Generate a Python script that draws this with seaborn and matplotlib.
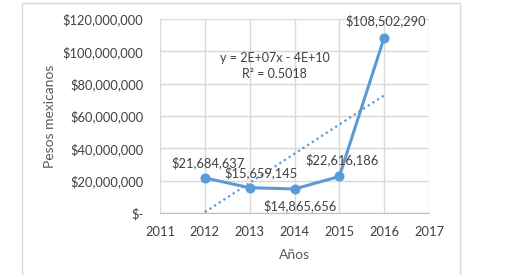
import numpy as np
import pandas as pd
import matplotlib
matplotlib.use("Agg")
import matplotlib.pyplot as plt
import seaborn as sns
from matplotlib.ticker import FuncFormatter

# Data
anios = [2012, 2013, 2014, 2015, 2016]
pesos = [21684637, 15659145, 14865656, 22616186, 108502290]
etiquetas = ["$21,684,637", "$15,659,145", "$14,865,656", "$22,616,186", "$108,502,290"]
ecuacion = "y = 2E+07x - 4E+10"
r2_texto = "R² = 0.5018"

azul = "#5B9BD5"
gris_texto = "#595959"
gris_rejilla = "#D9D9D9"

sns.set_style("white")
plt.rcParams["font.family"] = ["Lato", "DejaVu Sans"]

df = pd.DataFrame({"Años": anios, "Pesos": pesos})

fig = plt.figure(figsize=(5.28, 2.75), dpi=100)
ax = fig.add_axes([160 / 528, 1 - 213 / 275, 269 / 528, 194 / 275])

# outer chart-area border (left, top, right visible)
fig.add_artist(plt.Line2D([22 / 528, 22 / 528], [0, 1 - 3 / 275], color=gris_rejilla, lw=1, transform=fig.transFigure))
fig.add_artist(plt.Line2D([22 / 528, 460 / 528], [1 - 3 / 275, 1 - 3 / 275], color=gris_rejilla, lw=1, transform=fig.transFigure))
fig.add_artist(plt.Line2D([460 / 528, 460 / 528], [0, 1 - 3 / 275], color=gris_rejilla, lw=1, transform=fig.transFigure))

# linear trend line
coef = np.polyfit(anios, pesos, 1)
tendencia = np.polyval(coef, anios)
ax.plot([anios[0], anios[-1]], [tendencia[0], tendencia[-1]], color=azul, lw=1.6, linestyle=(0, (1, 1.5)))

sns.lineplot(data=df, x="Años", y="Pesos", ax=ax, color=azul, lw=2.2,
             marker="o", markersize=6.5, markeredgecolor=azul)

offsets = [(2, 11), (8, 11), (4, -12), (2, 12), (1, 12)]
for x, y, t, off in zip(anios, pesos, etiquetas, offsets):
    ax.annotate(t, (x, y), xytext=off, textcoords="offset points", ha="center", va="center",
                fontsize=9.3, color="#404040")

ax.text(2013.56, 96e6, ecuacion, ha="center", va="center", fontsize=9, color="#404040")
ax.text(2013.56, 86e6, r2_texto, ha="center", va="center", fontsize=9, color="#404040")

ax.set_xlim(2011, 2017)
ax.set_ylim(0, 120e6)
ax.set_xticks(range(2011, 2018))
ax.set_yticks(np.arange(0, 120e6 + 1, 20e6))
ax.yaxis.set_major_formatter(FuncFormatter(lambda v, p: "$-" if v == 0 else f"${v:,.0f}"))
ax.grid(True, color=gris_rejilla, lw=1)
for s in ["left", "top", "right"]:
    ax.spines[s].set_visible(False)
ax.spines["bottom"].set_color("#BFBFBF")
ax.tick_params(axis="y", length=0, labelsize=9.3, labelcolor="#404040", pad=12)
ax.tick_params(axis="x", length=0, labelsize=9.3, labelcolor="#404040", pad=9)
ax.set_xlabel("Años", fontsize=10, color=gris_texto, labelpad=8)
ax.set_ylabel("Pesos mexicanos", fontsize=10, color=gris_texto, labelpad=5)

fig.savefig("out.png", dpi=100)
